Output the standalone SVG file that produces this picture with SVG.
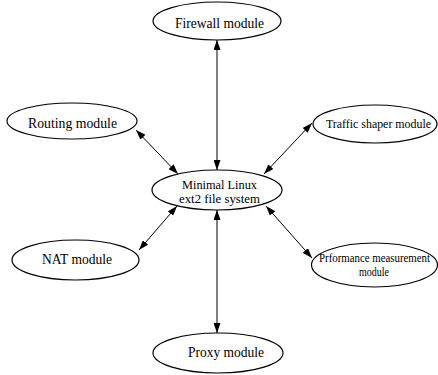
<svg xmlns="http://www.w3.org/2000/svg" width="438" height="375" viewBox="0 0 438 375">
<defs>
<marker id="ah" viewBox="0 0 10 8" refX="10" refY="4" markerWidth="10" markerHeight="7" markerUnits="userSpaceOnUse" orient="auto-start-reverse" preserveAspectRatio="none">
<path d="M0,0 L10,4 L0,8 Z" fill="#000"/>
</marker>
<style>
ellipse{fill:#fff;stroke:#000;stroke-width:1.2}
text{font-family:"Liberation Serif","Times New Roman",serif;font-size:14px;fill:#000}
.s{font-size:12px}
.e{stroke:#000;stroke-width:1;fill:none;marker-start:url(#ah);marker-end:url(#ah)}
</style>
</defs>
<rect width="438" height="375" fill="#fff"/>
<g id="edges">
<line class="e" x1="217" y1="40" x2="217" y2="170"/>
<line class="e" x1="217" y1="210" x2="217" y2="333"/>
<line class="e" x1="136" y1="130" x2="178" y2="174"/>
<line class="e" x1="312" y1="123" x2="264" y2="174"/>
<line class="e" x1="139" y1="250" x2="177" y2="206"/>
<line class="e" x1="312" y1="258" x2="266" y2="206"/>
</g>
<g id="firewall">
<ellipse cx="217" cy="21" rx="64" ry="19"/>
<text x="175" y="28" textLength="89" lengthAdjust="spacingAndGlyphs">Firewall module</text>
</g>
<g id="routing">
<ellipse cx="72" cy="121" rx="65" ry="18"/>
<text x="28" y="128" textLength="89" lengthAdjust="spacingAndGlyphs">Routing module</text>
</g>
<g id="traffic">
<ellipse cx="375" cy="124" rx="62" ry="19"/>
<text class="s" x="326" y="128" textLength="105" lengthAdjust="spacingAndGlyphs" style="font-size:12.5px">Traffic shaper module</text>
</g>
<g id="center">
<ellipse cx="217" cy="190" rx="65" ry="20"/>
<text class="s" x="182" y="189" textLength="75" lengthAdjust="spacingAndGlyphs" style="font-size:12.5px">Minimal Linux</text>
<text class="s" x="179" y="203" textLength="81" lengthAdjust="spacingAndGlyphs" style="font-size:12.5px">ext2 file system</text>
</g>
<g id="nat">
<ellipse cx="75.5" cy="260" rx="63.5" ry="20"/>
<text x="42" y="264" textLength="70" lengthAdjust="spacingAndGlyphs">NAT module</text>
</g>
<g id="perf">
<ellipse cx="374.5" cy="265" rx="63" ry="22"/>
<text class="s" x="374.5" y="262" text-anchor="middle" textLength="111" lengthAdjust="spacingAndGlyphs" style="font-size:11.6px">Prformance measurement</text>
<text class="s" x="374" y="276" text-anchor="middle" textLength="30" lengthAdjust="spacingAndGlyphs">module</text>
</g>
<g id="proxy">
<ellipse cx="218" cy="353" rx="65" ry="20"/>
<text x="188" y="357" textLength="76" lengthAdjust="spacingAndGlyphs">Proxy module</text>
</g>
</svg>
